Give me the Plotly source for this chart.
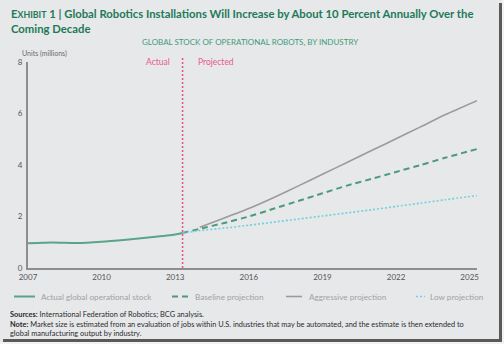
import plotly.graph_objects as go

# Global stock of operational robots (millions of units)
actual_years = [2007, 2008, 2009, 2010, 2011, 2012, 2013, 2013.3]
actual_units = [0.96, 0.99, 0.97, 1.02, 1.10, 1.19, 1.30, 1.36]

proj_years = [2013.3, 2014, 2015, 2016, 2017, 2018, 2019, 2020, 2021, 2022, 2023, 2024, 2025.3]
baseline_units = [1.36, 1.52, 1.75, 2.00, 2.30, 2.60, 2.90, 3.20, 3.46, 3.73, 4.00, 4.28, 4.62]
low_units = [1.36, 1.45, 1.55, 1.66, 1.78, 1.90, 2.02, 2.14, 2.26, 2.39, 2.52, 2.65, 2.81]

aggr_years = [2014, 2015, 2016, 2017, 2018, 2019, 2020, 2021, 2022, 2023, 2024, 2025.3]
aggr_units = [1.58, 1.94, 2.31, 2.73, 3.18, 3.64, 4.10, 4.56, 5.02, 5.48, 5.95, 6.50]

x_ticks = [2007, 2010, 2013, 2016, 2019, 2022, 2025]
y_ticks = [0, 2, 4, 6, 8]
split_year = 2013.3

W, H = 504, 344
L, R, T, B = 28, 27, 62, 76
PW, PH = W - L - R, H - T - B

def px(xp):
    return (xp - L) / PW

def py(yp):
    return (H - B - yp) / PH

BG = "#e7e8ea"
GREEN = "#5aa588"
GREEN_D = "#4b9a7c"
GREY = "#9b9b9b"
CYAN = "#72d2de"
PINK = "#e8588a"
FONT = "Lato"

series = [
    dict(name="Actual global operational stock", x=actual_years, y=actual_units,
         line=dict(color=GREEN, width=2), key_x=(14, 35), text_x=39),
    dict(name="Baseline projection", x=proj_years, y=baseline_units,
         line=dict(color=GREEN_D, width=2, dash="6px,4px"), key_x=(172, 189), text_x=193),
    dict(name="Aggressive projection", x=aggr_years, y=aggr_units,
         line=dict(color=GREY, width=1.6), key_x=(286, 302), text_x=307),
    dict(name="Low projection", x=proj_years, y=low_units,
         line=dict(color=CYAN, width=1.6, dash="2px,2px"), key_x=(416, 425), text_x=428),
]

fig = go.Figure()
for s in series:
    fig.add_trace(go.Scatter(x=s["x"], y=s["y"], mode="lines", name=s["name"],
                             line=dict(s["line"], shape="spline", smoothing=0.6),
                             showlegend=False))

shapes = [
    # actual / projected divider
    dict(type="line", xref="x", yref="paper", x0=split_year, x1=split_year,
         y0=0, y1=py(58), line=dict(color=PINK, width=1.6, dash="2px,2px")),
    # frame shadow
    dict(type="rect", xref="paper", yref="paper", x0=px(499), x1=px(502),
         y0=py(341), y1=py(3), line=dict(width=0), fillcolor="#5a5a5a", layer="above"),
    dict(type="rect", xref="paper", yref="paper", x0=px(3), x1=px(502),
         y0=py(342), y1=py(339), line=dict(width=0), fillcolor="#5a5a5a", layer="above"),
    dict(type="rect", xref="paper", yref="paper", x0=px(502), x1=px(505),
         y0=py(345), y1=py(-1), line=dict(width=0), fillcolor="#f2f2f2", layer="above"),
    dict(type="rect", xref="paper", yref="paper", x0=px(-1), x1=px(505),
         y0=py(345), y1=py(342), line=dict(width=0), fillcolor="#f2f2f2", layer="above"),
]

title_html = ("<b>E<span style='font-size:8.8px'>XHIBIT</span> 1 | Global Robotics Installations "
              "Will Increase by About 10 Percent Annually Over the<br>Coming Decade</b>")

annotations = [
    dict(text=title_html, x=px(9), y=py(5), xanchor="left", yanchor="top", align="left",
         font=dict(family=FONT, size=11.3, color="#1c7a58")),
    dict(text="GLOBAL STOCK OF OPERATIONAL ROBOTS, BY INDUSTRY", x=px(250), y=py(42),
         xanchor="center", yanchor="middle", font=dict(family=FONT, size=8, color="#3f9c79")),
    dict(text="Units (millions)", x=px(20), y=py(53), xanchor="left", yanchor="middle",
         font=dict(family=FONT, size=7, color="#6a6a6a")),
    dict(text="Actual", x=px(172), y=py(62), xanchor="right", yanchor="middle",
         font=dict(family=FONT, size=8.5, color=PINK)),
    dict(text="Projected", x=px(196), y=py(62), xanchor="left", yanchor="middle",
         font=dict(family=FONT, size=8.5, color=PINK)),
    dict(text="<b>Sources:</b> International Federation of Robotics; BCG analysis.<br>"
              "<b>Note:</b> Market size is estimated from an evaluation of jobs within U.S. "
              "industries that may be automated, and the estimate is then extended to<br>"
              "global manufacturing output by industry.",
         x=px(8), y=py(308), xanchor="left", yanchor="top", align="left",
         font=dict(family=FONT, size=7.4, color="#2a2a2a")),
]

# key row beneath the axis
KEY_Y = 296.5
for s in series:
    x0, x1 = s["key_x"]
    shapes.append(dict(type="line", xref="paper", yref="paper", x0=px(x0), x1=px(x1),
                       y0=py(KEY_Y), y1=py(KEY_Y), line=s["line"]))
    annotations.append(dict(text=s["name"], x=px(s["text_x"]), y=py(KEY_Y),
                            xanchor="left", yanchor="middle",
                            font=dict(family=FONT, size=8.2, color="#a2a2a2")))

for a in annotations:
    a.update(xref="paper", yref="paper", showarrow=False)

fig.update_layout(
    width=W, height=H,
    margin=dict(l=L, r=R, t=T, b=B),
    paper_bgcolor=BG, plot_bgcolor=BG,
    font=dict(family=FONT, size=8, color="#555555"),
    xaxis=dict(range=[2007, 2025.3], tickvals=x_ticks, showgrid=False, zeroline=False,
               showline=True, linecolor="#8e8e8e", linewidth=2, ticks="",
               tickfont=dict(family=FONT, size=8, color="#555555")),
    yaxis=dict(range=[0, 8], tickvals=y_ticks, showgrid=False, zeroline=False,
               showline=True, linecolor="#8e8e8e", linewidth=2, ticks="",
               ticklabelstandoff=2,
               tickfont=dict(family=FONT, size=8, color="#555555")),
    showlegend=False,
    shapes=shapes, annotations=annotations,
)

fig.write_html("out.html")
